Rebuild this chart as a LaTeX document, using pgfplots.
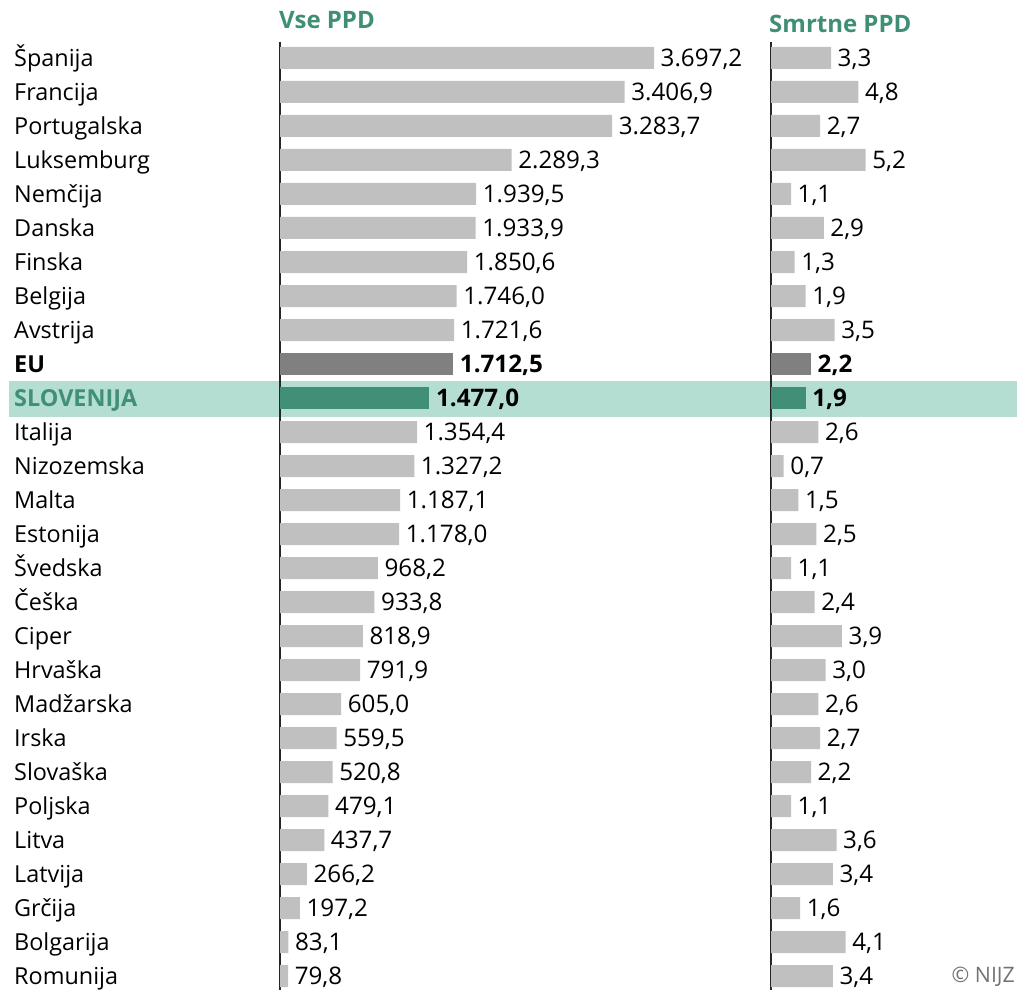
\documentclass[border=0pt]{standalone}
\usepackage{fontspec}
\setmainfont{Open Sans}
\usepackage{pgfplots}
\usepackage{pgfplotstable}
\pgfplotsset{compat=1.18}
\definecolor{barg}{HTML}{C0C0C0}
\definecolor{eug}{HTML}{808080}
\definecolor{slo}{HTML}{428F78}
\definecolor{band}{HTML}{B5DED2}
\definecolor{ttl}{HTML}{3F8E76}

% y = row (0 = top), vse = vse PPD, smrt = smrtne PPD
\pgfplotstableread{
y vse smrt
0 3697.2 3.3
1 3406.9 4.8
2 3283.7 2.7
3 2289.3 5.2
4 1939.5 1.1
5 1933.9 2.9
6 1850.6 1.3
7 1746.0 1.9
8 1721.6 3.5
11 1354.4 2.6
12 1327.2 0.7
13 1187.1 1.5
14 1178.0 2.5
15 968.2 1.1
16 933.8 2.4
17 818.9 3.9
18 791.9 3.0
19 605.0 2.6
20 559.5 2.7
21 520.8 2.2
22 479.1 1.1
23 437.7 3.6
24 266.2 3.4
25 197.2 1.6
26 83.1 4.1
27 79.8 3.4
}\drugi

\newcommand{\fs}{\fontsize{23.4}{28}\selectfont}
\newcommand{\fv}{\fontsize{24.2}{28}\selectfont}

\pgfplotsset{
  panel/.style={
    xbar, bar width=22pt, bar shift=0pt,
    scale only axis, height=948pt,
    y dir=reverse, ymin=-0.47, ymax=27.41, xmin=0,
    axis x line=none, axis y line*=left,
    y axis line style={line width=1.8pt, color=black!85, -},
    xtick=\empty, major tick length=0pt,
    clip=false,
    point meta=x,
    nodes near coords,
    every node near coord/.append style={font=\fv, text=black, inner sep=0pt, anchor=base west, xshift=6.5pt, yshift=-8.5pt},
    /pgf/number format/use comma,
    /pgf/number format/1000 sep={.},
    /pgf/number format/fixed,
    /pgf/number format/fixed zerofill,
    /pgf/number format/precision=1,
    /pgf/number format/assume math mode=true,
  },
}

\begin{document}
\begin{tikzpicture}[x=1pt,y=1pt]
\useasboundingbox (0,0) rectangle (1017,990);
\fill[band] (9,573) rectangle (1017,609);

\begin{axis}[panel,
  at={(280pt,948pt)}, anchor=north west, width=374pt, xmax=3697.2,
  ytick={0,...,27},
  yticklabels={Španija,Francija,Portugalska,Luksemburg,Nemčija,Danska,Finska,Belgija,Avstrija,\textbf{EU},{\bfseries\color{slo}SLOVENIJA},Italija,Nizozemska,Malta,Estonija,Švedska,Češka,Ciper,Hrvaška,Madžarska,Irska,Slovaška,Poljska,Litva,Latvija,Grčija,Bolgarija,Romunija},
  yticklabel style={font=\fs, text=black, anchor=base west, inner sep=0pt, xshift=-266pt, yshift=-8.5pt},
]
\addplot[fill=barg, draw=none] table[x=vse, y=y] {\drugi};
\addplot[fill=eug, draw=none, every node near coord/.append style={font=\fv\bfseries}] coordinates {(1712.5,9)};
\addplot[fill=slo, draw=none, every node near coord/.append style={font=\fv\bfseries}] coordinates {(1477.0,10)};
\end{axis}

\begin{axis}[panel,
  at={(771pt,948pt)}, anchor=north west, width=94.6pt, xmax=5.2,
  ytick=\empty,
]
\addplot[fill=barg, draw=none] table[x=smrt, y=y] {\drugi};
\addplot[fill=eug, draw=none, every node near coord/.append style={font=\fv\bfseries}] coordinates {(2.2,9)};
\addplot[fill=slo, draw=none, every node near coord/.append style={font=\fv\bfseries}] coordinates {(1.9,10)};
\end{axis}

\node[anchor=base west, font=\fontsize{24}{28}\selectfont\bfseries, text=ttl, inner sep=0pt] at (279,961) {Vse PPD};
\node[anchor=base west, font=\fontsize{24}{28}\selectfont\bfseries, text=ttl, inner sep=0pt] at (769,957) {Smrtne PPD};
\node[anchor=base east, font=\fontsize{21.3}{24}\selectfont, text=black!55, inner sep=0pt] at (1015,7) {© NIJZ};
\end{tikzpicture}
\end{document}
